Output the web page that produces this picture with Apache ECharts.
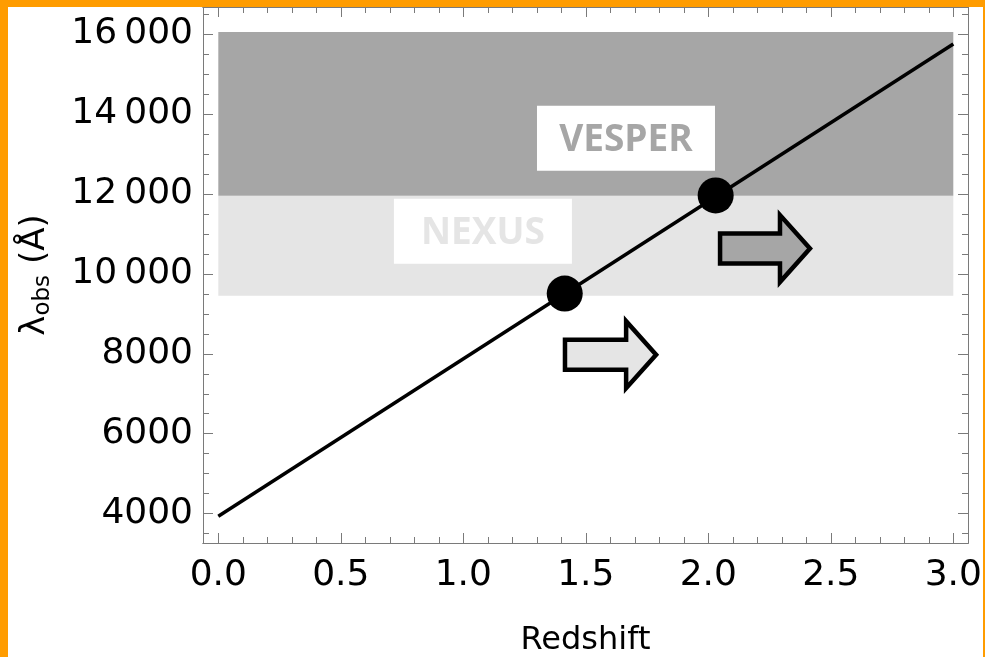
<!DOCTYPE html>
<html>
<head>
<meta charset="utf-8">
<script src="https://cdn.jsdelivr.net/npm/echarts@6/dist/echarts.min.js"></script>
<style>
  html, body { margin: 0; padding: 0; background: #fff; }
  #wrap { position: relative; width: 985px; height: 657px; overflow: hidden; background: #fff; }
  #chart { position: absolute; left: 0; top: 0; width: 985px; height: 657px; }
  .edge { position: absolute; background: #ff9c00; }
</style>
</head>
<body>
<div id="wrap">
  <div id="chart"></div>
  <div class="edge" style="left:0;top:0;width:985px;height:7px"></div>
  <div class="edge" style="left:0;top:0;width:8px;height:657px"></div>
  <div class="edge" style="left:983px;top:0;width:2px;height:657px"></div>
</div>
<script>
// Observed wavelength versus redshift
const lineRedshift = [0, 3];
const lineLambda = [3937, 15750];

// Instrument coverage bands (Angstrom)
const bandNames = ['NEXUS', 'VESPER'];
const bandFrom = [0, 0];
const bandTo = [3, 3];
const bandLow = [9450, 11950];
const bandHigh = [11950, 16050];
const bandColors = ['#e5e5e5', '#a6a6a6'];

// Band name tags, placed in data space
const tagRedshift = [1.080, 1.664];
const tagLambda = [11066, 13392];

// Threshold markers where the line enters each band
const markerRedshift = [1.414, 2.03];
const markerLambda = [9505, 11960];

// Direction arrows (start redshift, tip redshift, wavelength)
const arrowFrom = [1.415, 2.048];
const arrowTo = [1.787, 2.415];
const arrowLambda = [7977, 10633];
const arrowColors = ['#e5e5e5', '#a6a6a6'];

// Frame ticks
const xTicks = [0, 0.5, 1, 1.5, 2, 2.5, 3];
const xTickLabels = ['0.0', '0.5', '1.0', '1.5', '2.0', '2.5', '3.0'];
const xMinorTicks = [0.1, 0.2, 0.3, 0.4, 0.6, 0.7, 0.8, 0.9, 1.1, 1.2, 1.3, 1.4, 1.6, 1.7, 1.8, 1.9,
                     2.1, 2.2, 2.3, 2.4, 2.6, 2.7, 2.8, 2.9];
const yTicks = [4000, 6000, 8000, 10000, 12000, 14000, 16000];
const yTickLabels = ['4000', '6000', '8000', '10\u2009000', '12\u2009000', '14\u2009000', '16\u2009000'];
const yMinorTicks = [3500, 4500, 5000, 5500, 6500, 7000, 7500, 8500, 9000, 9500, 10500, 11000, 11500,
                     12500, 13000, 13500, 14500, 15000, 15500, 16500];

const X_MIN = -0.0625, X_MAX = 3.06;
const Y_MIN = 3267, Y_MAX = 16674;

const FRAME = '#7a7a7a';
const FONT = '"DejaVu Sans", sans-serif';

function makeXAxis(position, values, len, withLabels) {
  const ax = {
    type: 'value', min: X_MIN, max: X_MAX, position: position,
    axisLine: { show: true, onZero: false, lineStyle: { color: FRAME, width: 1 } },
    axisTick: { show: true, inside: true, length: len, customValues: values,
                lineStyle: { color: FRAME, width: 1 } },
    splitLine: { show: false },
    axisLabel: { show: false }
  };
  if (withLabels) {
    ax.axisLabel = {
      show: true, customValues: xTicks, margin: 15,
      formatter: v => xTickLabels[xTicks.indexOf(+v.toFixed(2))],
      color: '#000', fontSize: 36, fontFamily: FONT
    };
    ax.name = 'Redshift';
    ax.nameLocation = 'middle';
    ax.nameGap = 82;
    ax.nameTextStyle = { color: '#000', fontSize: 32, fontFamily: FONT };
  }
  return ax;
}

function makeYAxis(position, values, len, withLabels) {
  const ax = {
    type: 'value', min: Y_MIN, max: Y_MAX, position: position,
    axisLine: { show: true, onZero: false, lineStyle: { color: FRAME, width: 1 } },
    axisTick: { show: true, inside: true, length: len, customValues: values,
                lineStyle: { color: FRAME, width: 1 } },
    splitLine: { show: false },
    axisLabel: { show: false }
  };
  if (withLabels) {
    ax.axisLabel = {
      show: true, customValues: yTicks, margin: 10,
      formatter: v => yTickLabels[yTicks.indexOf(Math.round(v))],
      color: '#000', fontSize: 36, fontFamily: FONT
    };
    ax.name = '{l|\u03bb}{s|obs}{l| (\u00c5)}';
    ax.nameLocation = 'middle';
    ax.nameRotate = 90;
    ax.nameGap = 148;
    ax.nameTextStyle = {
      color: '#000', fontFamily: FONT,
      rich: {
        l: { fontSize: 34, fontFamily: FONT, color: '#000' },
        s: { fontSize: 23, fontFamily: FONT, color: '#000', padding: [16, 0, 0, 0] }
      }
    };
  }
  return ax;
}

const chart = echarts.init(document.getElementById('chart'), null, { renderer: 'canvas' });

const option = {
  animation: false,
  backgroundColor: '#fff',
  grid: { left: 203, right: 17, top: 7, bottom: 114, containLabel: false, outerBoundsMode: 'none' },
  xAxis: [
    makeXAxis('bottom', xTicks, 10, true),
    makeXAxis('bottom', xMinorTicks, 6, false),
    makeXAxis('top', xTicks, 10, false),
    makeXAxis('top', xMinorTicks, 6, false)
  ],
  yAxis: [
    makeYAxis('left', yTicks, 10, true),
    makeYAxis('left', yMinorTicks, 6, false),
    makeYAxis('right', yTicks, 10, false),
    makeYAxis('right', yMinorTicks, 6, false)
  ],
  series: [
    {
      // shaded coverage bands
      type: 'custom', xAxisIndex: 0, yAxisIndex: 0, z: 1, silent: true,
      data: bandNames.map((n, i) => [bandFrom[i], bandTo[i], bandLow[i], bandHigh[i], i]),
      encode: { x: [0, 1], y: [2, 3] },
      renderItem: (params, api) => {
        const p0 = api.coord([api.value(0), api.value(3)]);
        const p1 = api.coord([api.value(1), api.value(2)]);
        return {
          type: 'rect',
          shape: { x: p0[0], y: p0[1], width: p1[0] - p0[0], height: p1[1] - p0[1] },
          style: { fill: bandColors[api.value(4)] }
        };
      }
    },
    {
      // band name tags
      type: 'custom', xAxisIndex: 0, yAxisIndex: 0, z: 2, silent: true,
      data: bandNames.map((n, i) => [tagRedshift[i], tagLambda[i], i]),
      encode: { x: 0, y: 1 },
      renderItem: (params, api) => {
        const c = api.coord([api.value(0), api.value(1)]);
        const i = api.value(2);
        const w = 178, h = 65;
        return {
          type: 'group',
          children: [
            { type: 'rect', shape: { x: c[0] - w / 2, y: c[1] - h / 2, width: w, height: h },
              style: { fill: '#fff' } },
            { type: 'text', x: c[0], y: c[1] + 2,
              style: { text: bandNames[i], fill: bandColors[i], fontSize: 37, fontWeight: 'bold',
                       fontFamily: '"Open Sans", sans-serif', align: 'center', verticalAlign: 'middle' } }
          ]
        };
      }
    },
    {
      // arrows pointing toward higher redshift
      type: 'custom', xAxisIndex: 0, yAxisIndex: 0, z: 3, silent: true,
      data: arrowFrom.map((v, i) => [arrowFrom[i], arrowTo[i], arrowLambda[i], i]),
      encode: { x: [0, 1], y: 2 },
      renderItem: (params, api) => {
        const a = api.coord([api.value(0), api.value(2)]);
        const b = api.coord([api.value(1), api.value(2)]);
        const y = a[1], x0 = a[0], x1 = b[0];
        const shaft = 15, head = 33.5, headLen = 30;
        return {
          type: 'polygon',
          shape: { points: [
            [x0, y - shaft], [x1 - headLen, y - shaft], [x1 - headLen, y - head], [x1, y],
            [x1 - headLen, y + head], [x1 - headLen, y + shaft], [x0, y + shaft]
          ] },
          style: { fill: arrowColors[api.value(3)], stroke: '#000', lineWidth: 4.5, lineJoin: 'miter' }
        };
      }
    },
    {
      type: 'line', xAxisIndex: 0, yAxisIndex: 0, z: 4,
      data: lineRedshift.map((z, i) => [z, lineLambda[i]]),
      symbol: 'none', silent: true,
      lineStyle: { color: '#000', width: 3.5 }
    },
    {
      type: 'scatter', xAxisIndex: 0, yAxisIndex: 0, z: 5,
      data: markerRedshift.map((z, i) => [z, markerLambda[i]]),
      symbol: 'circle', symbolSize: 36, silent: true,
      itemStyle: { color: '#000', opacity: 1 }
    }
  ]
};

chart.setOption(option);
</script>
</body>
</html>
